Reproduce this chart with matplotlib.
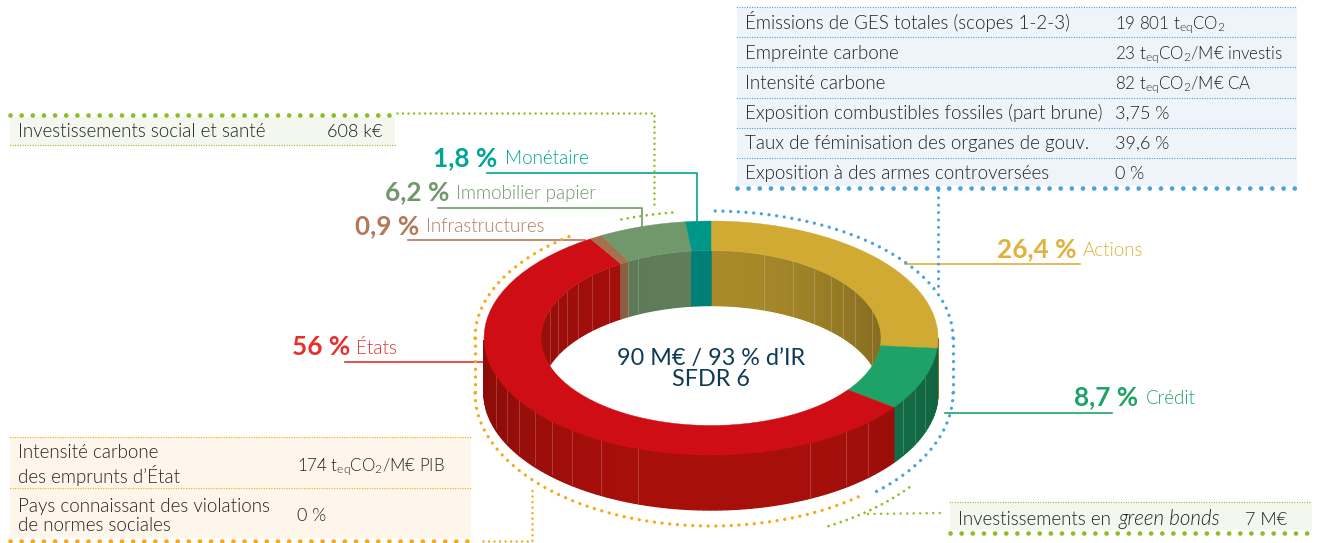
import numpy as np
import matplotlib
matplotlib.use("Agg")
import matplotlib.pyplot as plt
from matplotlib.patches import Ellipse, Rectangle
from matplotlib.colors import to_rgb

plt.rcParams['font.family'] = ['Lato', 'DejaVu Sans']
plt.rcParams['font.weight'] = 300
plt.rcParams['mathtext.fontset'] = 'custom'
plt.rcParams['mathtext.rm'] = 'Lato'
plt.rcParams['mathtext.default'] = 'rm'

# parts of the ring, clockwise from the top
names = ['Actions', 'Crédit', 'États', 'Infrastructures', 'Immobilier papier', 'Monétaire']
shares = [26.4, 8.7, 56.0, 0.9, 6.2, 1.8]
value_labels = ['26,4 %', '8,7 %', '56 %', '0,9 %', '6,2 %', '1,8 %']
top_colors = ['#D1AA33', '#1EA267', '#CE0E14', '#A6714F', '#71986B', '#00978B']
wall_colors = ['#A88A2A', '#15784E', '#A80F0B', '#8F6144', '#607D5A', '#007F77']
text_colors = ['#E0B23C', '#1EA267', '#E5302D', '#B5785A', '#71986B', '#00A595']

center_lines = ['90 M€ / 93 % d’IR', 'SFDR 6']

blue_rows = ['Émissions de GES totales (scopes 1-2-3)', 'Empreinte carbone', 'Intensité carbone',
             'Exposition combustibles fossiles (part brune)',
             'Taux de féminisation des organes de gouv.', 'Exposition à des armes controversées']
blue_vals = ['19 801 t$_{eq}$CO$_2$', '23 t$_{eq}$CO$_2$/M€ investis', '82 t$_{eq}$CO$_2$/M€ CA',
             '3,75 %', '39,6 %', '0 %']

orange_rows = ['Intensité carbone\ndes emprunts d’État', 'Pays connaissant des violations\nde normes sociales']
orange_vals = ['174 t$_{eq}$CO$_2$/M€ PIB', '0 %']

BLUE = '#4BA3DC'
ORANGE = '#F9A81A'
GREEN = '#8CBF26'
DARK = '#222222'
FS = 13.5
FS_VAL = 13.0
FS_MATH = 12.2

cx, cy, rx, ry = 711, 338, 227, 117
irx, iry = 170, 87.5
depth = 55

fig = plt.figure(figsize=(13.2, 5.43), dpi=100)
ax = fig.add_axes([0, 0, 1, 1])
ax.set_xlim(0, 1320)
ax.set_ylim(543, 0)
ax.axis('off')


def pt(a, w, h, dy=0):
    a = np.radians(a)
    return cx + w * np.sin(a), cy + dy - h * np.cos(a)


def shade(col, k):
    return tuple(c * k for c in to_rgb(col))


def dotted(xs, ys, col, lw=2.0, gap=3.0, z=6):
    ax.plot(xs, ys, color=col, lw=lw, ls=(0, (0.01, gap)), dash_capstyle='round', zorder=z)


def arc(a0, a1, w, h, col, dy=0, lw=2.4):
    a = np.linspace(a0, a1, 160)
    x, y = pt(a, w, h, dy)
    dotted(x, y, col, lw=lw, gap=2.3)


def table(x0, x1, y0, y1, bg, col, lines, heavy):
    ax.add_patch(Rectangle((x0, y0), x1 - x0, y1 - y0, fc=bg, ec='none', zorder=1))
    for y in lines:
        dotted([x0, x1], [y, y], col, lw=1.0, gap=1.8, z=2)
    dotted([x0, x1], [heavy, heavy], col, lw=3.4, gap=2.35, z=2)


def val_text(x, y, s):
    # the subscripted values need a smaller size to keep the same width
    size = FS_MATH if '$' in s else FS_VAL
    ax.text(x, y, s, fontsize=size, color=DARK, va='baseline', zorder=7)


# ring
edges = np.concatenate([[0], np.cumsum(shares)]) * 3.6
clip = Ellipse((cx, cy), 2 * irx, 2 * iry, transform=ax.transData)

for i in range(len(shares)):
    a0, a1 = edges[i], edges[i + 1]
    steps = np.arange(a0, a1 + 1.5, 1.5)
    steps = steps[steps <= a1]
    if steps[-1] < a1:
        steps = np.r_[steps, a1]
    # top face
    a = np.linspace(a0, a1, 60)
    xo, yo = pt(a, rx, ry)
    xi, yi = pt(a[::-1], irx, iry)
    ax.fill(np.r_[xo, xi], np.r_[yo, yi], color=top_colors[i], lw=0.3, zorder=4)
    for s0, s1 in zip(steps[:-1], steps[1:]):
        mid = np.radians((s0 + s1) / 2)
        # outer wall, front half only
        if 90 <= s0 and s1 <= 270:
            x, y = pt(np.array([s0, s1]), rx, ry)
            k = 1 - 0.17 * abs(np.sin(mid)) ** 3
            ax.fill([x[0], x[1], x[1], x[0]], [y[0], y[1], y[1] + depth, y[0] + depth],
                    color=shade(wall_colors[i], k), lw=1.0, joinstyle='bevel', zorder=3)
        # inner wall, back half only
        if s1 <= 90 or s0 >= 270:
            x, y = pt(np.array([s0, s1]), irx, iry)
            k = 1 - 0.2 * max(np.sin(mid), 0) ** 2 - 0.1 * max(-np.sin(mid), 0) ** 2
            p = ax.fill([x[0], x[1], x[1], x[0]], [y[0], y[1], y[1] + depth, y[0] + depth],
                        color=shade(wall_colors[i], k), lw=1.0, joinstyle='bevel', zorder=3)[0]
            p.set_clip_path(clip)

# facet seams on the walls
outer_seams = [496, 507, 519, 535, 552, 572, 601, 638, 810, 846, 868, 903, 915, 925]
inner_seams = [550, 558, 567, 578, 592, 609, 628, 638, 764, 793, 814, 831, 843, 855, 872]
for x in outer_seams:
    y = cy + ry * np.sqrt(1 - ((x - cx) / rx) ** 2)
    ax.plot([x, x], [y, y + depth - 3 * (abs(x - cx) / rx)], color='white', lw=0.6, alpha=0.22, zorder=3.5)
for x in inner_seams:
    y = cy - iry * np.sqrt(1 - ((x - cx) / irx) ** 2)
    l, = ax.plot([x, x], [y, y + depth], color='white', lw=0.6, alpha=0.22, zorder=3.5)
    l.set_clip_path(clip)

# tables
table(737, 1297, 8, 186, '#EFF4FB', BLUE, [7, 37, 67, 98, 128, 158], 188)
table(10, 395, 117, 145, '#F3F7EE', GREEN, [145], 115)
table(10, 471, 437, 538, '#FEF6EA', ORANGE, [437, 488], 541)
table(950, 1312, 503, 530, '#F3F7EE', GREEN, [502], 533)

for i in range(len(blue_rows)):
    y = 29 + 30 * i
    ax.text(745, y, blue_rows[i], fontsize=FS, color=DARK, va='baseline', zorder=7)
    val_text(1115, y, blue_vals[i])

ax.text(18, 137, 'Investissements social et santé', fontsize=FS, color=DARK, va='baseline', zorder=7)
val_text(327, 137, '608 k€')

for i, y in enumerate([465, 516]):
    ax.text(18, y, orange_rows[i], fontsize=FS, color=DARK, va='center', linespacing=1.2, zorder=7)
val_text(297, 471, orange_vals[0])
val_text(297, 521, orange_vals[1])

ax.text(958, 525, 'Investissements en', fontsize=FS, color=DARK, va='baseline', zorder=7)
ax.text(1118, 525, 'green bonds', fontsize=14.8, color=DARK, va='baseline', style='italic', zorder=7)
val_text(1245, 525, '7 M€')

# centre text
for line, y in zip(center_lines, [358, 380]):
    ax.text(cx, y, line, fontsize=16.8, fontweight='normal', color='#0E3A55', ha='center', va='center', zorder=7)

# labels and their leaders
label_x = [997, 1074, 292, 355, 385, 433]
name_x = [1083, 1146, 356, 426, 456, 505]
label_y = [249, 397, 347, 226, 192, 158]
leaders = [([905, 1080], [264, 264]),
           ([945, 1112], [413, 413]),
           ([345, 484], [362, 362]),
           ([408, 585], [240, 240]),
           ([438, 642, 642], [208, 208, 228]),
           ([487, 697, 697], [173, 173, 222])]
for i in range(len(names)):
    ax.text(label_x[i], label_y[i], value_labels[i], fontsize=18.8, fontweight='bold',
            color=text_colors[i], va='center', zorder=7)
    ax.text(name_x[i], label_y[i] + 1, names[i], fontsize=FS,
            color=text_colors[i], va='center', zorder=7)
    ax.plot(leaders[i][0], leaders[i][1], color=text_colors[i], lw=1.2, zorder=2)

# dotted brackets round the ring
arc(1, 90, 242, 127, BLUE)
dotted([953, 953], [338, 393], BLUE, lw=2.4, gap=2.3)
arc(90, 139, 242, 135, BLUE, dy=55)
dotted([938, 938], [190, 288], BLUE, lw=2.2, gap=2.4)

arc(323, 270, 236, 127, ORANGE)
dotted([475, 475], [338, 393], ORANGE, lw=2.4, gap=2.3)
arc(270, 140, 236, 133, ORANGE, dy=55)
dotted([483, 532, 532], [541, 541, 490], ORANGE, lw=1.8, gap=2.2)

arc(339, 352, 250, 127, GREEN, lw=2.0)
dotted([397, 654, 654], [113, 113, 205], GREEN, lw=1.8, gap=2.2)
arc(129, 153, 255, 150, GREEN, dy=55, lw=2.0)
dotted([868, 942], [514, 513], GREEN, lw=1.8, gap=2.6)

fig.savefig('out.png', dpi=100)
